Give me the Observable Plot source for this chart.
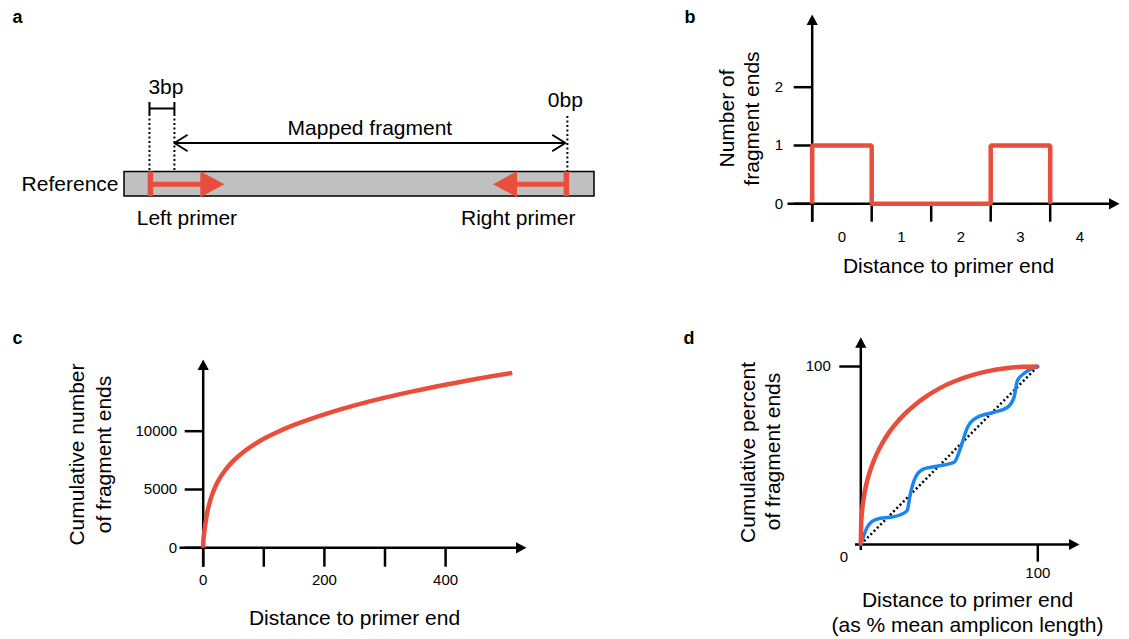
<!DOCTYPE html>
<html><head><meta charset="utf-8">
<script src="https://cdn.jsdelivr.net/npm/d3@7"></script>
<script src="https://cdn.jsdelivr.net/npm/@observablehq/plot@0.6"></script>
<style>
body{margin:0;background:#fff;}
#fig{position:relative;width:1129px;height:639px;overflow:hidden;background:#fff;}
</style></head><body><div id="fig"></div>
<script>
// ---------------- DATA ----------------
const panelLetters = ["a", "b", "c", "d"];

// panel a : schematic, positions along the reference in bp
const referenceSpan = [-3, 53.5];
const leftPrimerEnd = 0, leftPrimerTip = 9;
const rightPrimerEnd = 50, rightPrimerTip = 41.3;
const fragmentStart = 3, fragmentEnd = 50;
const referenceLabel = "Reference";
const leftPrimerLabel = "Left primer";
const rightPrimerLabel = "Right primer";
const fragmentLabel = "Mapped fragment";
const trimLabelLeft = "3bp";
const trimLabelRight = "0bp";

// panel b
const distanceB = [0, 1, 2, 3, 4];
const fragmentEndCountsB = [1, 0, 0, 1, 0];
const yTicksB = [0, 1, 2];

// panel c
const distanceC = [0, 0.3, 1, 2, 4, 7, 12, 18, 25, 35, 50, 65, 80, 100, 120, 150, 200, 250, 300, 350, 400, 450, 510];
const cumulativeC = [0, 600, 1000, 1400, 2200, 3100, 4130, 5000, 5760, 6570, 7470, 8160, 8720, 9350, 9870, 10540, 11450, 12220, 12880, 13460, 13980, 14470, 15000];
const xTicksC = [0, 100, 200, 300, 400];
const xTickLabelsC = [0, 200, 400];
const yTicksC = [0, 5000, 10000];

// panel d
const distanceDRed = [0, 0.2, 0.5, 1, 2, 3, 4.5, 6.5, 9, 12, 16, 20, 25, 30, 37, 45, 53, 62, 72, 82, 91, 100];
const percentDRed  = [0, 11.3, 16.3, 21.5, 28.4, 33.3, 39.0, 44.9, 50.9, 56.7, 63.0, 68.1, 73.5, 78.0, 83.2, 88.0, 91.7, 94.9, 97.4, 99.0, 99.8, 100];
const distanceDBlue = [0, 1, 3.6, 6.4, 11, 16.7, 22.4, 26.2, 28, 30.9, 35.6, 43.2, 52.7, 56.5, 60.3, 65.9, 75.3, 82.9, 86.6, 88.5, 93.2, 100];
const percentDBlue  = [0, 3, 9.7, 13, 14.8, 15.3, 16.7, 19.1, 28.4, 37.8, 42.5, 44, 46.2, 54.7, 65.9, 71.5, 74.3, 77.1, 82.8, 92.1, 96.8, 100];
const diagonalD = [0, 100];
const xTicksD = [100];
const yTicksD = [100];
const originLabelD = "0";

// axis titles
const xTitleB = ["Distance to primer end"];
const yTitleB = ["Number of", "fragment ends"];
const xTitleC = ["Distance to primer end"];
const yTitleC = ["Cumulative number", "of fragment ends"];
const xTitleD = ["Distance to primer end", "(as % mean amplicon length)"];
const yTitleD = ["Cumulative percent", "of fragment ends"];

// ---------------- STYLE / LAYOUT ----------------
const RED = "#E94E3C", BLUE = "#1B86EF", GREY = "#C0C0C0";
const FONT = '"Liberation Sans", Arial, Helvetica, sans-serif';
const W = 1129, H = 639;
const fig = document.getElementById("fig");

function tri(dir, L, h) {
  return { draw(ctx) {
    ctx.moveTo(0, 0);
    if (dir === "right") { ctx.lineTo(-L, -h); ctx.lineTo(-L, h); }
    else if (dir === "left") { ctx.lineTo(L, -h); ctx.lineTo(L, h); }
    else { ctx.lineTo(-h, L); ctx.lineTo(h, L); }
    ctx.closePath();
  }};
}
const AX_L = 10.5, AX_H = 5.6;
const axRight = tri("right", AX_L, AX_H), axUp = tri("up", AX_L, AX_H);
const primerRight = tri("right", 24, 13), primerLeft = tri("left", 24, 13);

function overlay(opts) {
  const el = Plot.plot(Object.assign({
    width: W, height: H, marginTop: 0, marginRight: 0, marginBottom: 0, marginLeft: 0,
    style: {position: "absolute", left: "0px", top: "0px", background: "transparent",
            overflow: "visible", fontFamily: FONT, color: "black"}
  }, opts));
  fig.appendChild(el);
}
const fmt = d => `${d}`;

// ---------------- PANEL A ----------------
const ax = d3.scaleLinear(referenceSpan, [124, 594]);
const aRow = {bar1: 171.5, bar2: 196, barMid: 183.7, frag: 142.5, fragText: 128,
              bracket: 108, cap1: 102, cap2: 114, dotTopL: 114, dotTopR: 116,
              text3: 87, text0: 100, primerText: 218};
const fragMid = (fragmentStart + fragmentEnd) / 2;
overlay({
  x: {domain: ax.domain(), range: ax.range(), axis: null},
  y: {type: "identity", axis: null},
  marks: [
    Plot.rect([referenceSpan], {x1: d => d[0], x2: d => d[1], y1: aRow.bar1, y2: aRow.bar2,
      fill: GREY, stroke: "black", strokeWidth: 1.5}),
    Plot.ruleX([leftPrimerEnd, fragmentStart], {x: d => d, y1: aRow.dotTopL, y2: aRow.bar1,
      strokeWidth: 2, strokeDasharray: "2,2.5"}),
    Plot.ruleX([fragmentEnd], {x: d => d, dx: 2, y1: aRow.dotTopR, y2: aRow.bar1,
      strokeWidth: 2, strokeDasharray: "2,2.5"}),
    Plot.ruleY([aRow.bracket], {y: d => d, x1: leftPrimerEnd, x2: fragmentStart, strokeWidth: 2}),
    Plot.ruleX([leftPrimerEnd, fragmentStart], {x: d => d, y1: aRow.cap1, y2: aRow.cap2, strokeWidth: 2}),
    Plot.arrow([{a: fragMid, b: fragmentStart}, {a: fragMid, b: fragmentEnd}],
      {x1: "a", x2: "b", y1: aRow.frag, y2: aRow.frag, headLength: 11, headAngle: 64, strokeWidth: 2}),
    // primers
    Plot.ruleX([leftPrimerEnd, rightPrimerEnd], {x: d => d, dx: 1, y1: aRow.bar1, y2: aRow.bar2, stroke: RED, strokeWidth: 5.5}),
    Plot.ruleY([{a: leftPrimerEnd, b: leftPrimerTip - 2}, {a: rightPrimerEnd, b: rightPrimerTip + 2}],
      {x1: "a", x2: "b", y: aRow.barMid, stroke: RED, strokeWidth: 5}),
    Plot.dot([leftPrimerTip], {x: d => d, y: aRow.barMid, symbol: primerRight, fill: RED, stroke: "none"}),
    Plot.dot([rightPrimerTip], {x: d => d, y: aRow.barMid, symbol: primerLeft, fill: RED, stroke: "none"}),
    // texts
    Plot.text([referenceLabel], {x: referenceSpan[0], y: aRow.barMid, text: d => d, textAnchor: "end", dx: -6, fontSize: 21}),
    Plot.text([leftPrimerLabel], {x: (leftPrimerEnd + leftPrimerTip) / 2, y: aRow.primerText, text: d => d, fontSize: 21}),
    Plot.text([rightPrimerLabel], {x: (rightPrimerEnd + rightPrimerTip) / 2, dx: -11, y: aRow.primerText, text: d => d, fontSize: 21}),
    Plot.text([fragmentLabel], {x: fragMid, y: aRow.fragText, text: d => d, fontSize: 21}),
    Plot.text([trimLabelLeft], {x: (leftPrimerEnd + fragmentStart) / 2, dx: 4, y: aRow.text3, text: d => d, fontSize: 21}),
    Plot.text([trimLabelRight], {x: fragmentEnd, y: aRow.text0, text: d => d, fontSize: 21})
  ]
});

// ---------------- PANEL B ----------------
const bx = d3.scaleLinear([-0.5, 3.5], [811.7, 1049.7]);
const by = d3.scaleLinear([0, 2], [203.3, 86.7]);
const boundariesB = distanceB.map(d => d - 0.5);
const stepB = [{x: distanceB[0] - 0.5, y: 0}].concat(distanceB.map((d, i) => ({x: d - 0.5, y: fragmentEndCountsB[i]})));
overlay({
  marginLeft: bx(-0.5), marginBottom: H - by(0),
  x: {domain: bx.domain(), range: bx.range()},
  y: {domain: by.domain(), range: by.range()},
  marks: [
    Plot.ruleY([0], {y: d => d, x1: bx.invert(787.5), x2: bx.invert(1119 - AX_L + 1), strokeWidth: 2.5}),
    Plot.dot([0], {x: bx.invert(1119), y: 0, symbol: axRight, fill: "black", stroke: "none"}),
    Plot.ruleX([-0.5], {x: d => d, y1: by.invert(221.7), y2: by.invert(14 + AX_L - 1), strokeWidth: 2.5}),
    Plot.dot([0], {x: -0.5, y: by.invert(14), symbol: axUp, fill: "black", stroke: "none"}),
    Plot.axisY(yTicksB, {tickSize: 18, tickPadding: 11, fontSize: 15, strokeWidth: 2.5, label: null, tickFormat: fmt}),
    Plot.axisX(boundariesB, {tickSize: 18.4, tickFormat: () => "", strokeWidth: 2.5, label: null}),
    Plot.axisX(distanceB, {tickSize: 0, tickPadding: 28, fontSize: 15, label: null, tickFormat: fmt}),
    Plot.line(stepB, {x: "x", y: "y", curve: "step-after", stroke: RED, strokeWidth: 4.5,
      strokeLinejoin: "miter", strokeLinecap: "butt"})
  ]
});

// ---------------- PANEL C ----------------
const cx = d3.scaleLinear([0, 400], [202.7, 445.1]);
const cy = d3.scaleLinear([0, 10000], [547.3, 430.7]);
overlay({
  marginLeft: cx(0), marginBottom: H - cy(0),
  x: {domain: cx.domain(), range: cx.range()},
  y: {domain: cy.domain(), range: cy.range()},
  marks: [
    Plot.ruleY([0], {y: d => d, x1: cx.invert(179.5), x2: cx.invert(526 - AX_L + 1), strokeWidth: 2.5}),
    Plot.dot([0], {x: cx.invert(526), y: 0, symbol: axRight, fill: "black", stroke: "none"}),
    Plot.ruleX([0], {x: d => d, y1: cy.invert(566.7), y2: cy.invert(359 + AX_L - 1), strokeWidth: 2.5}),
    Plot.dot([0], {x: 0, y: cy.invert(359), symbol: axUp, fill: "black", stroke: "none"}),
    Plot.axisY(yTicksC, {tickSize: 18, tickPadding: 8, fontSize: 15, strokeWidth: 2.5, label: null, tickFormat: fmt}),
    Plot.axisX(xTicksC, {tickSize: 19.4, tickFormat: () => "", strokeWidth: 2.5, label: null}),
    Plot.axisX(xTickLabelsC, {tickSize: 0, tickPadding: 27, fontSize: 15, label: null, tickFormat: fmt}),
    Plot.line(distanceC.map((d, i) => ({x: d, y: cumulativeC[i]})),
      {x: "x", y: "y", curve: "monotone-x", stroke: RED, strokeWidth: 4.5, strokeLinecap: "butt"})
  ]
});

// ---------------- PANEL D ----------------
const dxs = d3.scaleLinear([0, 100], [860.3, 1037.3]);
const dys = d3.scaleLinear([0, 100], [544, 366]);
overlay({
  marginLeft: dxs(0), marginBottom: H - dys(0),
  x: {domain: dxs.domain(), range: dxs.range()},
  y: {domain: dys.domain(), range: dys.range()},
  marks: [
    Plot.ruleY([0], {y: d => d, x1: dxs.invert(855), x2: dxs.invert(1079 - AX_L + 1), strokeWidth: 2.5}),
    Plot.dot([0], {x: dxs.invert(1079), y: 0, symbol: axRight, fill: "black", stroke: "none"}),
    Plot.ruleX([0], {x: d => d, y1: dys.invert(550), y2: dys.invert(336.7 + AX_L - 1), strokeWidth: 2.5}),
    Plot.dot([0], {x: 0, y: dys.invert(336.7), symbol: axUp, fill: "black", stroke: "none"}),
    Plot.axisY(yTicksD, {tickSize: 21, tickPadding: 9, fontSize: 15, strokeWidth: 2.5, label: null, tickFormat: fmt}),
    Plot.axisX(xTicksD, {tickSize: 17.7, tickPadding: 5, fontSize: 15, strokeWidth: 2.5, label: null, tickFormat: fmt}),
    Plot.text([originLabelD], {x: 0, y: 0, dx: -17, dy: 13, text: d => d, fontSize: 15}),
    Plot.line(diagonalD.map(d => ({x: d, y: d})), {x: "x", y: "y", stroke: "black", strokeWidth: 2.5,
      strokeDasharray: "2,2.6", strokeLinecap: "butt"}),
    Plot.line(distanceDBlue.map((d, i) => ({x: d, y: percentDBlue[i]})),
      {x: "x", y: "y", curve: "monotone-x", stroke: BLUE, strokeWidth: 3.5}),
    Plot.line(distanceDRed.map((d, i) => ({x: d, y: percentDRed[i]})),
      {x: "x", y: "y", curve: "monotone-x", stroke: RED, strokeWidth: 4.5, strokeLinecap: "butt"})
  ]
});

// ---------------- ANNOTATIONS (panel letters and axis titles) ----------------
const letterPos = [[12, 17], [684, 17], [12, 338], [683, 338]];
const titlePos = {
  xB: [[948, 266]], yB: [[727, 118], [752, 118]],
  xC: [[354, 618]], yC: [[77, 454], [104, 454]],
  xD: [[967, 600], [967, 625]], yD: [[748, 452], [773, 451]]
};
const titleMarks = (texts, pos, rotate) => Plot.text(texts, {
  x: (d, i) => pos[i][0], y: (d, i) => pos[i][1], text: d => d, fontSize: 21, rotate
});
overlay({
  x: {type: "identity", axis: null},
  y: {type: "identity", axis: null},
  marks: [
    Plot.text(panelLetters, {x: (d, i) => letterPos[i][0], y: (d, i) => letterPos[i][1], text: d => d,
      fontWeight: "bold", fontSize: 18, textAnchor: "start"}),
    titleMarks(xTitleB, titlePos.xB, 0),
    titleMarks(yTitleB, titlePos.yB, -90),
    titleMarks(xTitleC, titlePos.xC, 0),
    titleMarks(yTitleC, titlePos.yC, -90),
    titleMarks(xTitleD, titlePos.xD, 0),
    titleMarks(yTitleD, titlePos.yD, -90)
  ]
});
</script>
</body></html>
